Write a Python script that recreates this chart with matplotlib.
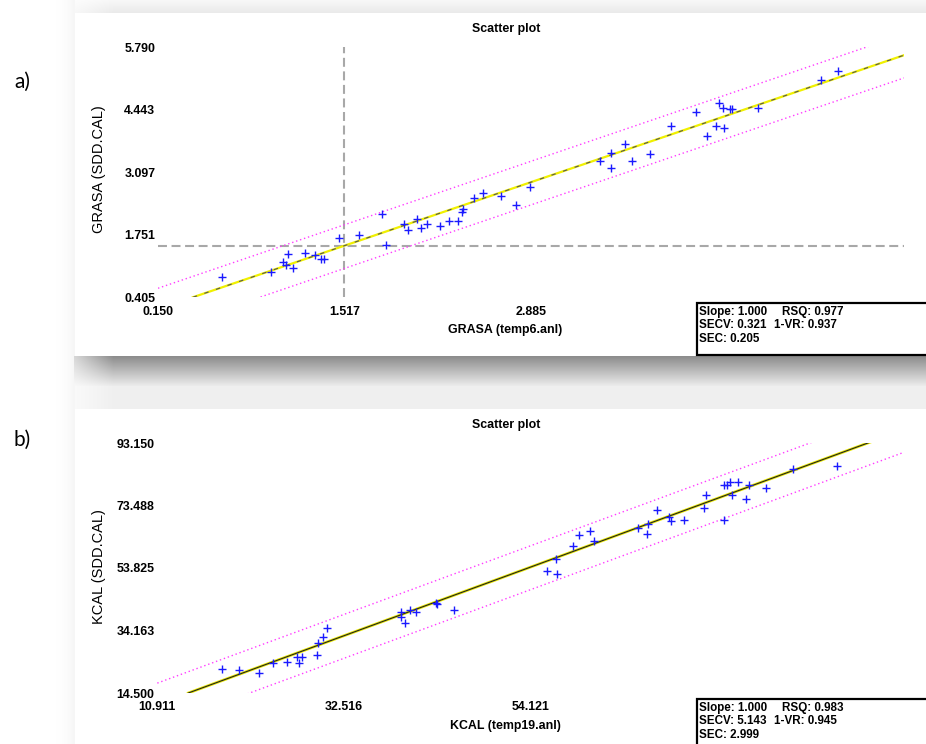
import numpy as np
import matplotlib
matplotlib.use("Agg")
import matplotlib.pyplot as plt
from matplotlib.patches import Rectangle

# ---- panel a: GRASA ----
grasa_ref = [0.621, 0.981, 1.066, 1.086, 1.105, 1.142, 1.230, 1.301, 1.342, 1.370,
             1.480, 1.626, 1.792, 1.821, 1.951, 1.980, 2.047, 2.081, 2.125, 2.215,
             2.284, 2.353, 2.377, 2.384, 2.467, 2.531, 2.665, 2.778, 2.878, 3.389,
             3.475, 3.472, 3.575, 3.626, 3.758, 3.912, 4.096, 4.177, 4.238, 4.262,
             4.294, 4.297, 4.343, 4.356, 4.549, 5.013, 5.138]
grasa_pred = [0.836, 0.943, 1.172, 1.101, 1.344, 1.043, 1.366, 1.316, 1.223, 1.223,
              1.689, 1.747, 2.193, 1.525, 1.990, 1.848, 2.098, 1.891, 1.990, 1.947,
              2.048, 2.048, 2.236, 2.300, 2.550, 2.645, 2.587, 2.386, 2.787, 3.334,
              3.506, 3.190, 3.700, 3.334, 3.498, 4.088, 4.396, 3.885, 4.088, 4.596,
              4.489, 4.045, 4.461, 4.461, 4.489, 5.085, 5.285]
grasa_xticks = [0.150, 1.517, 2.885]
grasa_yticks = [0.405, 1.751, 3.097, 4.443, 5.790]
grasa_xlim = (0.150, 5.620)
grasa_ylim = (0.405, 5.790)
grasa_band = (0.45, -0.49)
grasa_cross = (1.517, 1.517)
grasa_stats = ["Slope: 1.000", "RSQ: 0.977", "SECV: 0.321", "1-VR: 0.937", "SEC: 0.205"]

# ---- panel b: KCAL ----
kcal_ref = [18.36, 20.33, 22.68, 24.34, 25.96, 27.08, 27.28, 27.66, 29.36, 29.51,
            30.12, 30.52, 39.08, 39.12, 39.58, 40.19, 40.89, 43.17, 43.25, 45.29,
            56.05, 57.06, 57.21, 58.99, 59.68, 61.03, 61.45, 66.55, 67.67, 67.59,
            68.75, 70.10, 70.37, 71.87, 74.22, 74.38, 76.47, 76.54, 76.88, 77.16,
            77.39, 78.09, 79.05, 79.36, 81.36, 84.49, 89.61]
kcal_pred = [22.14, 21.83, 20.89, 24.03, 24.25, 25.92, 24.03, 25.73, 26.45, 30.32,
             32.02, 34.95, 39.98, 38.50, 36.43, 40.61, 39.89, 42.91, 42.40, 40.51,
             52.88, 56.75, 51.93, 60.84, 64.11, 65.37, 62.41, 66.31, 67.57, 64.61,
             71.97, 69.96, 68.70, 68.83, 72.79, 76.78, 79.93, 68.83, 80.02, 80.78,
             76.78, 80.78, 75.43, 79.93, 78.89, 84.87, 85.81]
kcal_xticks = [10.911, 32.516, 54.121]
kcal_yticks = [14.500, 34.163, 53.825, 73.488, 93.150]
kcal_xlim = (10.911, 97.331)
kcal_ylim = (14.500, 93.150)
kcal_band = (6.7, -7.1)
kcal_stats = ["Slope: 1.000", "RSQ: 0.983", "SECV: 5.143", "1-VR: 0.945", "SEC: 2.999"]

W, H = 926, 744
bold = dict(family="Liberation Sans", weight="bold", size=8.9)
stat_font = dict(family="Liberation Sans", weight="bold", size=8.4)

fig = plt.figure(figsize=(W / 100, H / 100), dpi=100)

# background with the screenshot panels and their shadows
bg = fig.add_axes([0, 0, 1, 1], zorder=0)
img = np.ones((H, W))
img[:13, 74:] = np.linspace(0.97, 0.92, 13)[:, None]
gap = np.concatenate([np.linspace(0.55, 0.92, 30), np.full(23, 0.94)])
img[356:409, 74:] = gap[:, None]
ramp = np.linspace(0.35, 1.0, 40)
img[356:409, 74:114] = 1 - (1 - img[356:409, 74:114]) * ramp[None, :]
img[:13, 74:114] = 1 - (1 - img[:13, 74:114]) * ramp[None, :]
left = 1 - 0.035 * np.linspace(0, 1, 20) ** 2
img[:, 55:75] = np.minimum(img[:, 55:75], left[None, :])
bg.imshow(np.dstack([img] * 3), extent=(0, W, H, 0), aspect="auto",
          interpolation="bilinear")
bg.set_xlim(0, W)
bg.set_ylim(H, 0)
bg.axis("off")


def panel(rect, xs, ys, xlim, ylim, xticks, yticks, band, dark, cross=None):
    ax = fig.add_axes(rect, zorder=1)
    ax.patch.set_alpha(0)
    ax.set_xlim(*xlim)
    ax.set_ylim(*ylim)
    for s in ax.spines.values():
        s.set_visible(False)
    ax.set_xticks(xticks, [f"{t:.3f}" for t in xticks], **bold)
    ax.set_yticks(yticks, [f"{t:.3f}" for t in yticks], **bold)
    ax.tick_params(axis="x", length=0, pad=6)
    ax.tick_params(axis="y", length=0, pad=2)
    if cross is not None:
        ax.axvline(cross[0], color="#a8a8a8", lw=1.5, dashes=(4.3, 2.2))
        ax.axhline(cross[1], color="#a8a8a8", lw=1.5, dashes=(4.3, 2.2))
    xx = np.array([xlim[0], xlim[1]])
    ax.plot(xx, xx + band[0], color="#ff3cff", lw=1.0, ls=(0, (1, 2)))
    ax.plot(xx, xx + band[1], color="#ff3cff", lw=1.0, ls=(0, (1, 2)))
    fit = np.array([ylim[0], xlim[1]])
    if dark:
        ax.plot(fit, fit, color="#e8e800", lw=2.0)
        ax.plot(fit, fit, color="#202020", lw=0.8)
    else:
        ax.plot(fit, fit, color="#f0f000", lw=1.6)
        ax.plot(fit, fit, color="#555555", lw=0.8, ls=(0, (4, 7)))
    ax.plot(xs, ys, "+", color="#1a1aff", ms=6.3, mew=1.0)
    return ax


panel([158 / W, 1 - 297.3 / H, 746 / W, 250 / H], grasa_ref, grasa_pred,
      grasa_xlim, grasa_ylim, grasa_xticks, grasa_yticks, grasa_band, False,
      grasa_cross)
panel([157.3 / W, 1 - 693 / H, 746.7 / W, 250 / H], kcal_ref, kcal_pred,
      kcal_xlim, kcal_ylim, kcal_xticks, kcal_yticks, kcal_band, True)

# overlay: titles, axis labels, statistics boxes
ov = fig.add_axes([0, 0, 1, 1], zorder=2)
ov.patch.set_alpha(0)
ov.set_xlim(0, W)
ov.set_ylim(H, 0)
ov.axis("off")

for top, name, xlab, stats, box_h in [
        (0, "GRASA (SDD.CAL)", "GRASA (temp6.anl)", grasa_stats, 52),
        (396, "KCAL (SDD.CAL)", "KCAL (temp19.anl)", kcal_stats, 60)]:
    ov.text(506, top + 29, "Scatter plot", ha="center", va="center", **bold)
    ov.text(505, top + 330, xlab, ha="center", va="center", **bold)
    ov.text(99, top + 169 if top == 0 else 567, name, rotation=90,
            ha="center", va="center", family="Liberation Sans", size=10.5)
    btop = 303 if top == 0 else 699
    ov.add_patch(Rectangle((697, btop), 260, box_h, facecolor="white",
                           edgecolor="black", lw=1.6, clip_on=False))
    ly = [btop + 9, btop + 22, btop + 35.5]
    ov.text(699, ly[0], stats[0], ha="left", va="center", **stat_font)
    ov.text(782, ly[0], stats[1], ha="left", va="center", **stat_font)
    ov.text(699, ly[1], stats[2], ha="left", va="center", **stat_font)
    ov.text(774, ly[1], stats[3], ha="left", va="center", **stat_font)
    ov.text(699, ly[2], stats[4], ha="left", va="center", **stat_font)

ov.text(22, 82, "a)", ha="center", va="center", family="Lato", size=15)
ov.text(22, 440, "b)", ha="center", va="center", family="Lato", size=15)

fig.savefig("out.png", dpi=100)
